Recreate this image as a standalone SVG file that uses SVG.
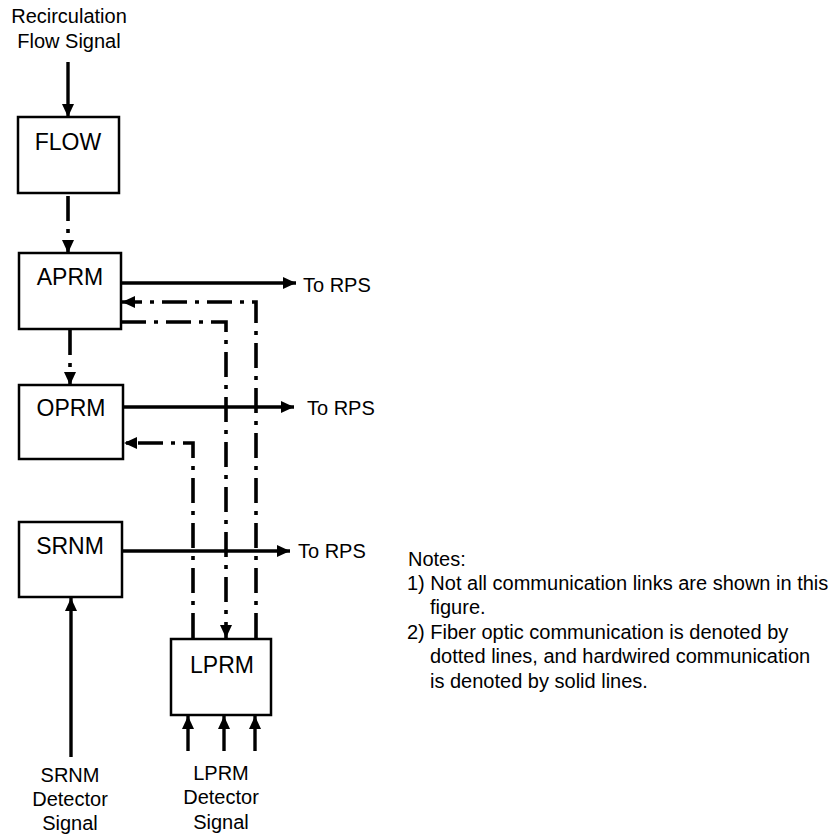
<svg xmlns="http://www.w3.org/2000/svg" width="834" height="836" viewBox="0 0 834 836">
<style>
.box{fill:#fff;stroke:#000;stroke-width:2.5}
.bl{font-family:"Liberation Sans",Arial,sans-serif;font-size:23px;fill:#000;text-anchor:middle}
.lb{font-family:"Liberation Sans",Arial,sans-serif;font-size:20px;fill:#000}
.c{text-anchor:middle}
.solid{fill:none;stroke:#000;stroke-width:3.4}
.dd{fill:none;stroke:#000;stroke-width:3.6;stroke-dasharray:25 8 4 8}
</style>
<defs>
<marker id="ah" markerUnits="userSpaceOnUse" markerWidth="15" markerHeight="13" refX="13" refY="6" orient="auto">
<path d="M0,0 L13,6 L0,12 z" fill="#000"/>
</marker>
</defs>
<rect width="834" height="836" fill="#fff"/>
<g id="connectors">
<path class="solid" d="M68,62 V117" marker-end="url(#ah)"/>
<path class="dd" d="M68,196 V253" marker-end="url(#ah)"/>
<path class="dd" d="M70,330 V385" marker-end="url(#ah)"/>
<path class="solid" d="M121,283 H296" marker-end="url(#ah)"/>
<path class="solid" d="M123,407 H294" marker-end="url(#ah)"/>
<path class="solid" d="M122,551 H290" marker-end="url(#ah)"/>
<path class="solid" d="M71,757 V598" marker-end="url(#ah)"/>
<path class="solid" d="M188,751 V716" marker-end="url(#ah)"/>
<path class="solid" d="M224,751 V716" marker-end="url(#ah)"/>
<path class="solid" d="M255,751 V716" marker-end="url(#ah)"/>
<path class="dd" d="M256,638 V302 H122" marker-end="url(#ah)"/>
<path class="dd" d="M121,322 H226 V638" marker-end="url(#ah)"/>
<path class="dd" d="M193,638 V443 H124" marker-end="url(#ah)"/>
</g>
<g id="flow-in-label">
<text class="lb c" x="69" y="23">Recirculation</text>
<text class="lb c" x="69" y="48">Flow Signal</text>
</g>
<g id="FLOW">
<rect class="box" x="18" y="117" width="101" height="76"/>
<text class="bl" x="68" y="150">FLOW</text>
</g>
<g id="APRM">
<rect class="box" x="19" y="253" width="102" height="76"/>
<text class="bl" x="70" y="285">APRM</text>
</g>
<g id="OPRM">
<rect class="box" x="19" y="385" width="104" height="74"/>
<text class="bl" x="71" y="416">OPRM</text>
</g>
<g id="SRNM">
<rect class="box" x="19" y="522" width="103" height="75"/>
<text class="bl" x="70" y="554">SRNM</text>
</g>
<g id="LPRM">
<rect class="box" x="171" y="639" width="100" height="76"/>
<text class="bl" x="222" y="673">LPRM</text>
</g>
<g id="rps-labels">
<text class="lb" x="303" y="292">To RPS</text>
<text class="lb" x="307" y="415">To RPS</text>
<text class="lb" x="298" y="558">To RPS</text>
</g>
<g id="srnm-detector">
<text class="lb c" x="70" y="782">SRNM</text>
<text class="lb c" x="70" y="806">Detector</text>
<text class="lb c" x="70" y="830">Signal</text>
</g>
<g id="lprm-detector">
<text class="lb c" x="221" y="780">LPRM</text>
<text class="lb c" x="221" y="804">Detector</text>
<text class="lb c" x="221" y="829">Signal</text>
</g>
<g id="notes">
<text class="lb" x="408" y="566">Notes:</text>
<text class="lb" x="407" y="590">1) Not all communication links are shown in this</text>
<text class="lb" x="430" y="614">figure.</text>
<text class="lb" x="407" y="639">2) Fiber optic communication is denoted by</text>
<text class="lb" x="430" y="663">dotted lines, and hardwired communication</text>
<text class="lb" x="430" y="688">is denoted by solid lines.</text>
</g>
</svg>
